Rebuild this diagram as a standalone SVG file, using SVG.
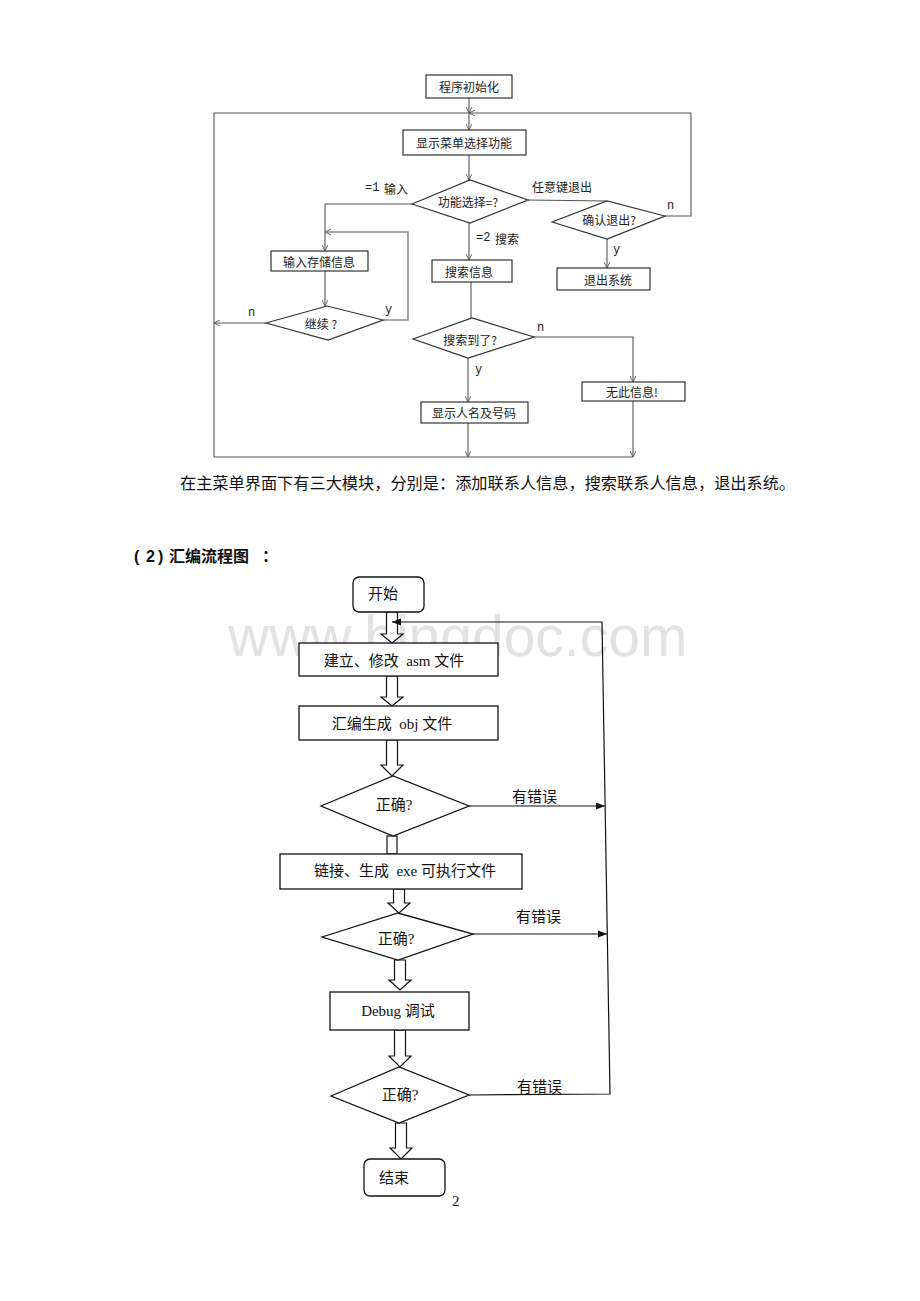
<svg xmlns="http://www.w3.org/2000/svg" width="920" height="1301" viewBox="0 0 920 1301">
<defs>
<style>
.bg{fill:#fff}
.wm{font-family:"Liberation Sans",Arial,sans-serif;font-size:57px;fill:#e2e2e2}
.b1{fill:#fff;stroke:#333;stroke-width:1.2}
.l1{fill:none;stroke:#555;stroke-width:1.1}
.t1{font-family:"Noto Sans CJK SC","DejaVu Sans",sans-serif;font-size:12px;fill:#222;text-anchor:middle;dominant-baseline:central}
.lb1{font-family:"Noto Sans CJK SC","DejaVu Sans",sans-serif;font-size:12px;fill:#222;dominant-baseline:central}
.lm{font-family:"Liberation Mono","Noto Sans CJK SC",monospace;font-size:12px;fill:#222;dominant-baseline:central}
.body{font-family:"Liberation Serif","Noto Sans CJK SC",serif;font-size:16.2px;fill:#111;dominant-baseline:central}
.hd{font-family:"Liberation Sans","Noto Sans CJK SC",sans-serif;font-size:16px;font-weight:bold;fill:#111;dominant-baseline:central}
.b2{fill:#fff;stroke:#111;stroke-width:1.3}
.l2{fill:none;stroke:#111;stroke-width:1.2}
.ha{fill:#fff;stroke:#111;stroke-width:1.2}
.t2{font-family:"Liberation Serif","Noto Sans CJK SC",serif;font-size:15px;fill:#111;text-anchor:middle;dominant-baseline:central;white-space:pre}
.lb2{font-family:"Liberation Serif","Noto Sans CJK SC",serif;font-size:15px;fill:#111;dominant-baseline:central}
</style>
<marker id="ov" viewBox="0 0 10 10" refX="10" refY="5" markerWidth="6" markerHeight="6" orient="auto" markerUnits="userSpaceOnUse">
<path d="M0,0 L10,5 L0,10" fill="none" stroke="#555" stroke-width="1.5"/>
</marker>
<marker id="fa" viewBox="0 0 10 10" refX="10" refY="5" markerWidth="9" markerHeight="9" orient="auto" markerUnits="userSpaceOnUse">
<path d="M0,1 L10,5 L0,9 Z" fill="#111"/>
</marker>
</defs>
<rect class="bg" x="0" y="0" width="920" height="1301"/>
<text class="wm" x="228" y="656">www.bingdoc.com</text>

<!-- ===== Top flowchart ===== -->
<g id="connectors-top">
<line class="l1" x1="469" y1="98" x2="469" y2="113" marker-end="url(#ov)"/>
<line class="l1" x1="469" y1="113" x2="469" y2="130" marker-end="url(#ov)"/>
<polyline class="l1" points="214,457 214,113 469,113"/>
<polyline class="l1" points="665,216 691,216 691,113 469,113" marker-end="url(#ov)"/>
<line class="l1" x1="469" y1="155" x2="469" y2="180" marker-end="url(#ov)"/>
<polyline class="l1" points="412,204 325,204 325,251" marker-end="url(#ov)"/>
<line class="l1" x1="325" y1="271" x2="325" y2="306" marker-end="url(#ov)"/>
<polyline class="l1" points="383,320 408,320 408,232 325,232" marker-end="url(#ov)"/>
<line class="l1" x1="266" y1="323" x2="214" y2="323" marker-end="url(#ov)"/>
<line class="l1" x1="528" y1="200" x2="607" y2="201"/>
<line class="l1" x1="607" y1="239" x2="607" y2="268" marker-end="url(#ov)"/>
<line class="l1" x1="469" y1="223" x2="469" y2="260" marker-end="url(#ov)"/>
<line class="l1" x1="471" y1="282" x2="471" y2="318"/>
<polyline class="l1" points="534,337 633,337 633,382" marker-end="url(#ov)"/>
<line class="l1" x1="468" y1="358" x2="468" y2="402" marker-end="url(#ov)"/>
<line class="l1" x1="468" y1="423" x2="468" y2="457" marker-end="url(#ov)"/>
<line class="l1" x1="633" y1="401" x2="633" y2="457" marker-end="url(#ov)"/>
<line class="l1" x1="214" y1="457" x2="633" y2="457"/>
<text class="lm" x="365" y="188">=1</text>
<text class="lb1" x="384" y="188">输入</text>
<text class="lb1" x="532" y="186">任意键退出</text>
<text class="lm" x="476" y="238">=2</text>
<text class="lb1" x="495" y="238">搜索</text>
<text class="lm" x="667" y="206">n</text>
<text class="lm" x="613" y="250">y</text>
<text class="lm" x="248" y="313">n</text>
<text class="lm" x="385" y="310">y</text>
<text class="lm" x="537" y="328">n</text>
<text class="lm" x="475" y="370">y</text>
</g>
<g id="n-init"><rect class="b1" x="426" y="75" width="86" height="23"/><text class="t1" x="469" y="86.5">程序初始化</text></g>
<g id="n-menu"><rect class="b1" x="403" y="130" width="123" height="25"/><text class="t1" x="464" y="142.5">显示菜单选择功能</text></g>
<g id="n-select"><polygon class="b1" points="412,204 470,180 528,200 470,223"/><text class="t1" x="468" y="201">功能选择=?</text></g>
<g id="n-input"><rect class="b1" x="271" y="251" width="97" height="20"/><text class="t1" x="319" y="261">输入存储信息</text></g>
<g id="n-continue"><polygon class="b1" points="266,323 327,306 383,320 328,340"/><text class="t1" x="321" y="323">继续 ?</text></g>
<g id="n-confirm"><polygon class="b1" points="552,222 607,201 665,216 607,239"/><text class="t1" x="609" y="219">确认退出?</text></g>
<g id="n-exit"><rect class="b1" x="557" y="268" width="93" height="22"/><text class="t1" x="608" y="279">退出系统</text></g>
<g id="n-search"><rect class="b1" x="432" y="260" width="80" height="22"/><text class="t1" x="469" y="271">搜索信息</text></g>
<g id="n-found"><polygon class="b1" points="413,339 472,318 534,337 468,358"/><text class="t1" x="470" y="339">搜索到了?</text></g>
<g id="n-none"><rect class="b1" x="582" y="382" width="103" height="19"/><text class="t1" x="632" y="391.5">无此信息!</text></g>
<g id="n-show"><rect class="b1" x="421" y="402" width="107" height="21"/><text class="t1" x="474" y="412.5">显示人名及号码</text></g>

<text class="body" x="180" y="484">在主菜单界面下有三大模块，分别是：添加联系人信息，搜索联系人信息，退出系统。</text>
<text class="hd" y="556"><tspan x="134">(</tspan><tspan x="146">2</tspan><tspan x="158">)</tspan><tspan x="169">汇编流程图</tspan><tspan x="262">：</tspan></text>

<!-- ===== Bottom flowchart ===== -->
<g id="connectors-bottom">
<polygon class="ha" points="386.5,612 397.5,612 397.5,634 403,634 392,643 381,634 386.5,634"/>
<polygon class="ha" points="386.5,676 397.5,676 397.5,697 403,697 392,706 381,697 386.5,697"/>
<polygon class="ha" points="386.5,740 397.5,740 397.5,765 403,765 392,776 381,765 386.5,765"/>
<rect class="ha" x="387" y="836" width="10" height="18"/>
<polygon class="ha" points="393.5,889 404.5,889 404.5,903 410,903 399,913 388,903 393.5,903"/>
<polygon class="ha" points="394.5,960 405.5,960 405.5,980 411,980 400,990 389,980 394.5,980"/>
<polygon class="ha" points="394.5,1030 405.5,1030 405.5,1056 411,1056 400,1067 389,1056 394.5,1056"/>
<polygon class="ha" points="395.5,1123 406.5,1123 406.5,1148 412,1148 401,1159 390,1148 395.5,1148"/>
<polyline class="l2" points="469,1095 610,1094 602,622 392,622" marker-end="url(#fa)"/>
<line class="l2" x1="469" y1="806" x2="605" y2="806" marker-end="url(#fa)"/>
<line class="l2" x1="473" y1="934" x2="607" y2="934" marker-end="url(#fa)"/>
<text class="lb2" x="512" y="797">有错误</text>
<text class="lb2" x="516" y="917">有错误</text>
<text class="lb2" x="517" y="1087">有错误</text>
</g>
<g id="n-start"><rect class="b2" x="353" y="577" width="71" height="35" rx="6"/><text class="t2" x="383" y="594">开始</text></g>
<g id="n-edit"><rect class="b2" x="299" y="643" width="199" height="33"/><text class="t2" x="394" y="661">建立、修改  asm 文件</text></g>
<g id="n-asm"><rect class="b2" x="299" y="706" width="199" height="34"/><text class="t2" x="392" y="724">汇编生成  obj 文件</text></g>
<g id="n-ok1"><polygon class="b2" points="321,806 393,776 469,806 393,836"/><text class="t2" x="394" y="805">正确?</text></g>
<g id="n-link"><rect class="b2" x="280" y="854" width="242" height="35"/><text class="t2" x="405" y="871">链接、生成  exe 可执行文件</text></g>
<g id="n-ok2"><polygon class="b2" points="322,937 398,913 473,934 398,960"/><text class="t2" x="396" y="939">正确?</text></g>
<g id="n-debug"><rect class="b2" x="330" y="992" width="139" height="38"/><text class="t2" x="398" y="1011">Debug 调试</text></g>
<g id="n-ok3"><polygon class="b2" points="331,1096 399,1067 469,1095 399,1123"/><text class="t2" x="400" y="1095">正确?</text></g>
<g id="n-end"><rect class="b2" x="364" y="1159" width="81" height="37" rx="6"/><text class="t2" x="394" y="1178">结束</text></g>
<text class="lb2" x="452" y="1201">2</text>
</svg>
